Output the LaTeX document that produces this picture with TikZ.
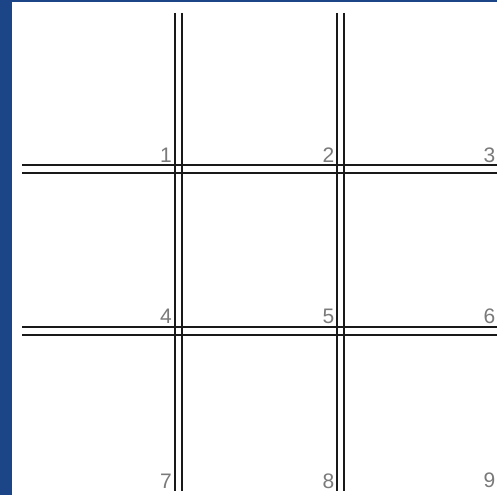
\documentclass[tikz,border=0pt]{standalone}
\usepackage{fontspec}
\setmainfont{Liberation Sans}
\usetikzlibrary{positioning}
\definecolor{frameblue}{HTML}{1B4586}
\definecolor{labelgray}{HTML}{7A7A7A}

\tikzset{
    gridline/.style={draw=black!90, line width=2pt},
    cellnum/.style={text=labelgray, font=\fontsize{21}{21}\selectfont, anchor=base east, inner sep=0pt},
}

\begin{document}
\begin{tikzpicture}[x=1pt,y=-1pt]
    \fill[frameblue] (0,0) rectangle (497,495);
    \fill[white] (12,2) rectangle (497,495);
    \useasboundingbox (0,0) rectangle (497,495);
    % double lines
    \foreach \x in {175,182,337,344}
        \draw[gridline] (\x,13) -- (\x,491);
    \foreach \y in {165,173,327,335}
        \draw[gridline] (22,\y) -- (497,\y);
    % cell numbers
    \foreach \n/\x/\y in {1/172/162, 2/334.5/162, 3/495.5/162,
                          4/172/323.5, 5/334.5/323.5, 6/495.5/323.5,
                          7/172/488, 8/334.5/488, 9/495.5/487}
        \node[cellnum] (num\n) at (\x,\y) {\n};
\end{tikzpicture}
\end{document}
